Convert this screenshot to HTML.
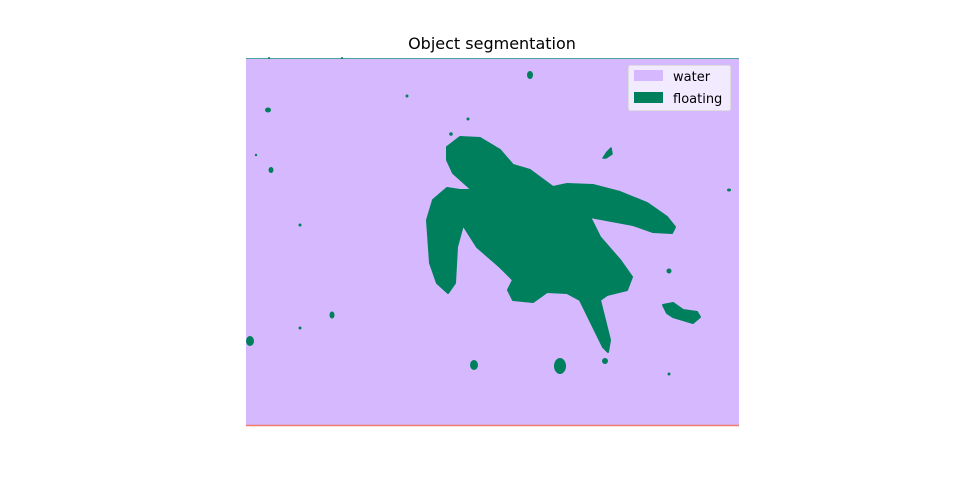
<!DOCTYPE html>
<html><head><meta charset="utf-8"><style>
body{margin:0;background:#fff;font-family:"Liberation Sans","DejaVu Sans",sans-serif;}
</style></head><body>
<svg width="960" height="480" viewBox="0 0 960 480" xmlns="http://www.w3.org/2000/svg">
<text x="492" y="49" text-anchor="middle" font-size="16" font-family="DejaVu Sans, Liberation Sans, sans-serif" fill="#000">Object segmentation</text>
<g>
<rect x="246" y="58" width="493" height="368" fill="#d6b8ff"/>
<line x1="246" y1="58.5" x2="739" y2="58.5" stroke="#4aa59a" stroke-width="1"/>
<line x1="246" y1="425.5" x2="739" y2="425.5" stroke="#f07d6e" stroke-width="1.5"/>
<g fill="#007f5c" stroke="#007f5c" stroke-linejoin="round" stroke-width="2">
<polygon points="447,147 460,137 480,138 500,150 513,165 530,170 553,187 567,184 593,185 620,192 647,203 667,217 675,227 672,233 653,232 633,225 590,217 600,237 620,260 632,277 627,290 607,295 600,300 610,340 608,352 603,347 580,300 567,293 547,292 533,302 513,300 508,290 513,280 500,267 477,247 463,225 457,247 455,283 448,293 437,283 430,263 427,220 433,200 447,188 460,190 472,190 453,173 447,160"/>
<polygon points="663,305 673,303 683,310 697,312 700,317 693,323 683,320 673,317 667,313"/>
<polygon points="603,158 607,152 611,148 612,154 606,158" stroke-width="1.5"/>
</g>
<g fill="#007f5c">
<ellipse cx="530" cy="75" rx="3" ry="4"/>
<ellipse cx="268" cy="110" rx="3" ry="2.5"/>
<circle cx="407" cy="96" r="1.5"/>
<circle cx="468" cy="119" r="1.5"/>
<circle cx="451" cy="134" r="1.8"/>
<circle cx="256" cy="155" r="1.2"/>
<ellipse cx="271" cy="170" rx="2.5" ry="3"/>
<ellipse cx="729" cy="190" rx="2" ry="1.5"/>
<circle cx="300" cy="225" r="1.5"/>
<circle cx="669" cy="271" r="2.5"/>
<ellipse cx="332" cy="315" rx="2.5" ry="3.5"/>
<circle cx="300" cy="328" r="1.5"/>
<ellipse cx="250" cy="341" rx="4" ry="5"/>
<ellipse cx="474" cy="365" rx="4" ry="5"/>
<ellipse cx="560" cy="366" rx="6" ry="8"/>
<circle cx="605" cy="361" r="3"/>
<circle cx="669" cy="374" r="1.5"/>
<circle cx="269" cy="58" r="1"/>
<circle cx="342" cy="58" r="1"/>
</g>
</g>
<g>
<rect x="628.5" y="65.5" width="102" height="45" rx="2" fill="#f7f2ff" fill-opacity="0.85" stroke="#ddd"/>
<rect x="634" y="70" width="29" height="11" fill="#d6b8ff"/>
<text x="673" y="81" font-size="13" font-family="DejaVu Sans, Liberation Sans, sans-serif" fill="#000">water</text>
<rect x="634" y="92" width="29" height="11" fill="#007f5c"/>
<text x="673" y="103" font-size="13" font-family="DejaVu Sans, Liberation Sans, sans-serif" fill="#000">floating</text>
</g>
</svg>
</body></html>
